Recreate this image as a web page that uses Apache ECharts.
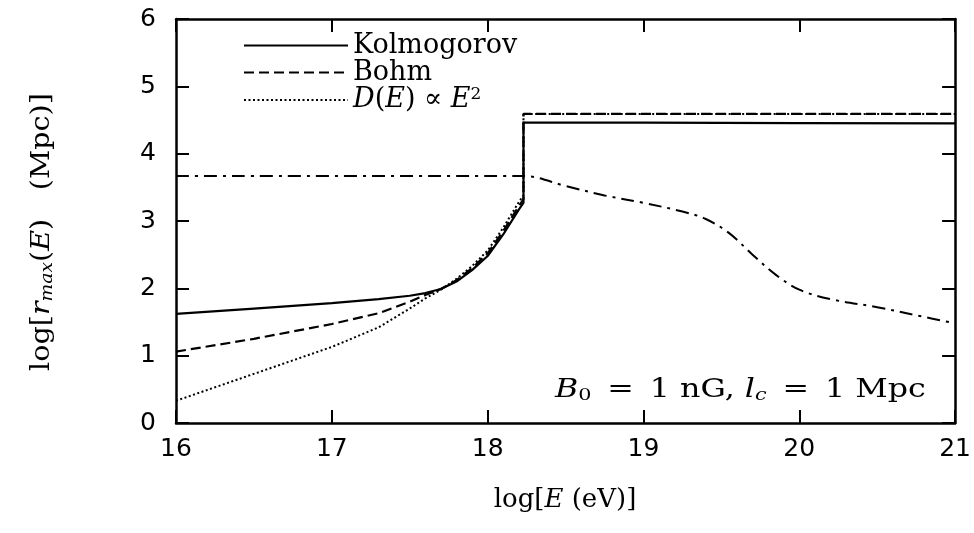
<!DOCTYPE html>
<html>
<head>
<meta charset="utf-8">
<script src="https://cdn.jsdelivr.net/npm/echarts@6/dist/echarts.min.js"></script>
<style>
html,body{margin:0;padding:0;background:#fff;}
#chart{width:974px;height:533px;}
</style>
</head>
<body>
<div id="chart"></div>
<script>
// Axis ticks
const xTicks = [16, 17, 18, 19, 20, 21];
const yTicks = [0, 1, 2, 3, 4, 5, 6];

// Kolmogorov (solid)
const kolX = [16, 16.5, 17, 17.3, 17.5, 17.6, 17.7, 17.8, 17.9, 18.0, 18.1, 18.2, 18.23, 18.23, 19.0, 20.0, 21];
const kolY = [1.62, 1.70, 1.78, 1.84, 1.89, 1.93, 1.99, 2.10, 2.27, 2.48, 2.80, 3.17, 3.27, 4.46, 4.46, 4.455, 4.45];

// Bohm (dashed)
const bohmX = [16, 16.5, 17, 17.3, 17.5, 17.6, 17.7, 17.8, 17.9, 18.0, 18.1, 18.2, 18.23, 18.23, 21];
const bohmY = [1.06, 1.25, 1.47, 1.63, 1.80, 1.90, 1.99, 2.12, 2.30, 2.52, 2.85, 3.22, 3.32, 4.59, 4.59];

// D(E) ∝ E^2 (dotted)
const e2X = [16, 16.5, 17, 17.3, 17.5, 17.6, 17.7, 17.8, 17.9, 18.0, 18.1, 18.2, 18.23, 18.23, 21];
const e2Y = [0.33, 0.73, 1.13, 1.42, 1.70, 1.85, 1.98, 2.14, 2.33, 2.56, 2.90, 3.28, 3.38, 4.59, 4.59];

// dash-dot curve (no legend entry)
const ddX = [16, 18.23, 18.5, 18.75, 19.0, 19.25, 19.4, 19.55, 19.7, 19.85, 20.0, 20.2, 20.5, 20.75, 21];
const ddY = [3.67, 3.67, 3.52, 3.38, 3.27, 3.14, 3.03, 2.82, 2.50, 2.20, 1.98, 1.84, 1.72, 1.60, 1.48];

const names = ['Kolmogorov', 'Bohm', 'D(E) ∝ E²'];

function pairs(xs, ys) { return xs.map((x, i) => [x, ys[i]]); }

const serif = 'DejaVu Serif';
function mkRich(fs) {
  return {
    n: { fontFamily: serif, fontSize: fs, color: '#000' },
    i: { fontFamily: serif, fontSize: fs, fontStyle: 'italic', color: '#000' },
    sub: { fontFamily: serif, fontSize: Math.round(fs * 0.64), fontStyle: 'italic', color: '#000', padding: [12, 0, 0, 0] },
    sub0: { fontFamily: serif, fontSize: Math.round(fs * 0.64), color: '#000', padding: [12, 0, 0, 0] },
    sup: { fontFamily: serif, fontSize: Math.round(fs * 0.62), color: '#000', padding: [0, 0, 11, 0] }
  };
}

const axisCommon = {
  type: 'value',
  axisLine: { show: true, onZero: false, lineStyle: { color: '#000', width: 2.5 } },
  axisTick: { show: true, inside: true, length: 13, lineStyle: { color: '#000', width: 2 } },
  splitLine: { show: false }
};

const chart = echarts.init(document.getElementById('chart'), null, { renderer: 'canvas' });
chart.setOption({
  animation: false,
  backgroundColor: '#fff',
  grid: { left: 176, right: 18, top: 19, bottom: 110 },
  legend: {
    data: names,
    orient: 'vertical',
    left: 243,
    top: 32,
    padding: 0,
    itemGap: 0,
    itemWidth: 104,
    itemHeight: 14,
    selectedMode: false,
    itemStyle: { opacity: 0 },
    formatter: function (name) {
      if (name === names[2]) return '{i|D}{n|(}{i|E}{n|) ∝ }{i|E}{sup|2}';
      return '{n|' + name + '}';
    },
    textStyle: {
      fontFamily: serif, fontSize: 27, color: '#000', lineHeight: 27,
      rich: mkRich(27)
    }
  },
  xAxis: [
    Object.assign({}, axisCommon, {
      min: xTicks[0], max: xTicks[xTicks.length - 1], interval: 1, position: 'bottom',
      axisLabel: { color: '#000', fontFamily: 'DejaVu Sans', fontSize: 25, margin: 14 }
    }),
    Object.assign({}, axisCommon, {
      min: xTicks[0], max: xTicks[xTicks.length - 1], interval: 1, position: 'top',
      axisLabel: { show: false }
    })
  ],
  yAxis: [
    Object.assign({}, axisCommon, {
      min: yTicks[0], max: yTicks[yTicks.length - 1], interval: 1, position: 'left',
      axisLabel: { color: '#000', fontFamily: 'DejaVu Sans', fontSize: 25, margin: 20 }
    }),
    Object.assign({}, axisCommon, {
      min: yTicks[0], max: yTicks[yTicks.length - 1], interval: 1, position: 'right',
      axisLabel: { show: false }
    })
  ],
  series: [
    {
      name: names[0], type: 'line', data: pairs(kolX, kolY), symbol: 'none', showSymbol: false,
      lineStyle: { color: '#000', width: 2.2, type: 'solid' }, itemStyle: { color: '#000' }
    },
    {
      name: names[1], type: 'line', data: pairs(bohmX, bohmY), symbol: 'none', showSymbol: false,
      lineStyle: { color: '#000', width: 2.2, type: [10, 5] }, itemStyle: { color: '#000' }
    },
    {
      name: names[2], type: 'line', data: pairs(e2X, e2Y), symbol: 'none', showSymbol: false,
      lineStyle: { color: '#000', width: 2, type: [2, 2.5] }, itemStyle: { color: '#000' }
    },
    {
      name: 'dash-dot', type: 'line', data: pairs(ddX, ddY), symbol: 'none', showSymbol: false,
      smooth: 0.35,
      lineStyle: { color: '#000', width: 2, type: [13, 6, 3, 6] }, itemStyle: { color: '#000' }
    }
  ],
  graphic: [
    {
      type: 'text', x: 555, y: 390, scaleX: 1.22,
      style: {
        text: '{i|B}{sub0|0}{n|\u2002=\u20021 nG, }{i|l}{sub|c}{n|\u2002=\u20021 Mpc}',
        rich: mkRich(26), verticalAlign: 'middle', align: 'left'
      }
    },
    {
      type: 'text', x: 565, y: 500, scaleX: 1.0,
      style: { text: '{n|log[}{i|E}{n| (eV)]}', rich: mkRich(26), align: 'center', verticalAlign: 'middle' }
    },
    {
      type: 'text', x: 42, y: 232, rotation: Math.PI / 2, scaleX: 1.1,
      style: { text: '{n|log[}{i|r}{sub|max}{n|(}{i|E}{n|)\u2002\u2002(Mpc)]}', rich: mkRich(26), align: 'center', verticalAlign: 'middle' }
    }
  ]
});
</script>
</body>
</html>
